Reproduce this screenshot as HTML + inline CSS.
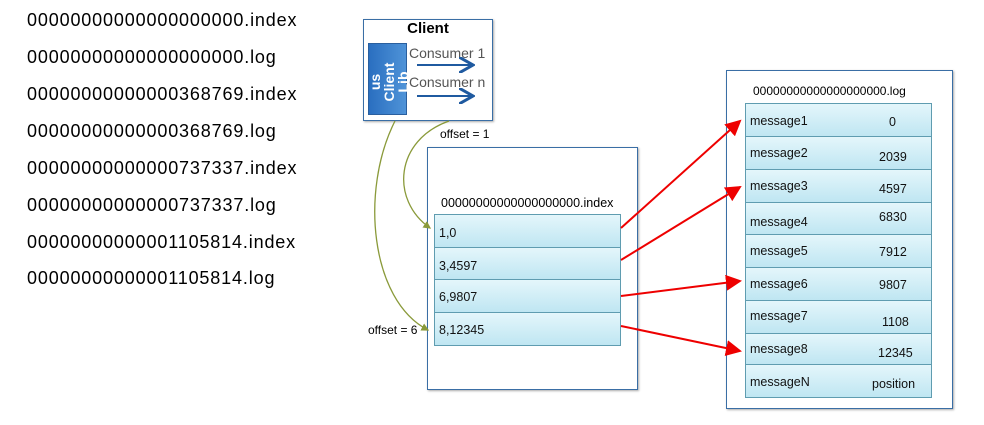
<!DOCTYPE html>
<html><head><style>
body{margin:0;width:984px;height:425px;background:#fff;font-family:"Liberation Sans",sans-serif;position:relative;overflow:hidden}
.l{position:absolute;left:27px;font-size:18px;letter-spacing:0.85px;color:#000}
.box{position:absolute;border:1.5px solid #3a6ea5;background:#fff;box-shadow:1px 1px 2px #aaa}
.row{position:absolute;background:linear-gradient(#e4f6fb,#bfe6f2);border:1px solid #5f9cb0;box-sizing:border-box;font-size:12.5px;color:#111}
.t{position:absolute;font-size:12px}
</style></head><body>
<div class="l" style="top:10px">00000000000000000000.index</div>
<div class="l" style="top:47px">00000000000000000000.log</div>
<div class="l" style="top:84px">00000000000000368769.index</div>
<div class="l" style="top:121px">00000000000000368769.log</div>
<div class="l" style="top:158px">00000000000000737337.index</div>
<div class="l" style="top:195px">00000000000000737337.log</div>
<div class="l" style="top:232px">00000000000001105814.index</div>
<div class="l" style="top:268px">00000000000001105814.log</div>

<div class="box" style="left:363px;top:19px;width:128px;height:100px"></div>
<div style="position:absolute;left:363px;top:20px;width:130px;text-align:center;font-weight:bold;font-size:15px">Client</div>
<div style="position:absolute;left:368px;top:43px;width:39px;height:72px;background:linear-gradient(90deg,#2a6fc0,#4f93d8);border:1px solid #2a5f9e;box-sizing:border-box"></div>
<div style="position:absolute;left:352px;top:62px;width:72px;height:40px;transform:rotate(-90deg);color:#fff;font-weight:bold;font-size:14px;line-height:14px;text-align:center;overflow:hidden">us<br>Client<br>Lib</div>
<div style="position:absolute;left:409px;top:45px;font-size:14px;color:#555">Consumer 1</div>
<div style="position:absolute;left:409px;top:74px;font-size:14px;color:#555">Consumer n</div>

<div class="box" style="left:427px;top:147px;width:209px;height:241px"></div>
<div class="t" style="left:441px;top:196px;font-size:12.5px">00000000000000000000.index</div>
<div class="row" style="left:434px;top:214px;width:187px;height:34px;padding:11px 4px">1,0</div>
<div class="row" style="left:434px;top:247px;width:187px;height:33px;padding:11px 4px">3,4597</div>
<div class="row" style="left:434px;top:279px;width:187px;height:34px;padding:10px 4px">6,9807</div>
<div class="row" style="left:434px;top:312px;width:187px;height:34px;padding:10px 4px">8,12345</div>

<div class="box" style="left:726px;top:70px;width:225px;height:337px"></div>
<div class="t" style="left:753px;top:84px">00000000000000000000.log</div>
<div class="row" style="left:745px;top:103px;width:187px;height:34px"><span style="position:absolute;left:4px;top:10px">message1</span><span style="position:absolute;left:143px;top:11px">0</span></div>
<div class="row" style="left:745px;top:136px;width:187px;height:34px"><span style="position:absolute;left:4px;top:9px">message2</span><span style="position:absolute;left:133px;top:13px">2039</span></div>
<div class="row" style="left:745px;top:169px;width:187px;height:34px"><span style="position:absolute;left:4px;top:9px">message3</span><span style="position:absolute;left:133px;top:12px">4597</span></div>
<div class="row" style="left:745px;top:202px;width:187px;height:33px"><span style="position:absolute;left:4px;top:12px">message4</span><span style="position:absolute;left:133px;top:7px">6830</span></div>
<div class="row" style="left:745px;top:234px;width:187px;height:34px"><span style="position:absolute;left:4px;top:9px">message5</span><span style="position:absolute;left:133px;top:10px">7912</span></div>
<div class="row" style="left:745px;top:267px;width:187px;height:34px"><span style="position:absolute;left:4px;top:9px">message6</span><span style="position:absolute;left:133px;top:10px">9807</span></div>
<div class="row" style="left:745px;top:300px;width:187px;height:34px"><span style="position:absolute;left:4px;top:8px">message7</span><span style="position:absolute;left:136px;top:14px">1108</span></div>
<div class="row" style="left:745px;top:333px;width:187px;height:32px"><span style="position:absolute;left:4px;top:8px">message8</span><span style="position:absolute;left:132px;top:12px">12345</span></div>
<div class="row" style="left:745px;top:364px;width:187px;height:34px"><span style="position:absolute;left:4px;top:10px">messageN</span><span style="position:absolute;left:126px;top:12px">position</span></div>

<div class="t" style="left:440px;top:127px">offset = 1</div>
<div class="t" style="left:368px;top:323px">offset = 6</div>

<svg width="984" height="425" style="position:absolute;left:0;top:0">
<defs>
<marker id="r" markerWidth="8" markerHeight="8" refX="7" refY="4" orient="auto"><path d="M0,0L8,4L0,8z" fill="#e00"/></marker>
<marker id="b" markerWidth="8" markerHeight="8" refX="6" refY="4" orient="auto"><path d="M0,0L7,4L0,8" fill="none" stroke="#1f5aa0" stroke-width="1.5"/></marker>
<marker id="g" markerWidth="6" markerHeight="6" refX="5" refY="3" orient="auto"><path d="M0,0L6,3L0,6z" fill="#8a9a3a"/></marker>
</defs>
<line x1="417" y1="65" x2="471" y2="65" stroke="#1f5aa0" stroke-width="2" marker-end="url(#b)"/>
<line x1="417" y1="96" x2="471" y2="96" stroke="#1f5aa0" stroke-width="2" marker-end="url(#b)"/>
<path d="M449,121 C395,140 390,200 430,228" fill="none" stroke="#8a9a3a" stroke-width="1.3" marker-end="url(#g)"/>
<path d="M395,121 C360,190 370,300 428,330" fill="none" stroke="#8a9a3a" stroke-width="1.3" marker-end="url(#g)"/>
<g stroke="#e00" stroke-width="2" fill="none">
<line x1="621" y1="228" x2="740" y2="121" marker-end="url(#r)"/>
<line x1="621" y1="260" x2="740" y2="187" marker-end="url(#r)"/>
<line x1="621" y1="296" x2="740" y2="281" marker-end="url(#r)"/>
<line x1="621" y1="326" x2="740" y2="351" marker-end="url(#r)"/>
</g>
</svg>
</body></html>
